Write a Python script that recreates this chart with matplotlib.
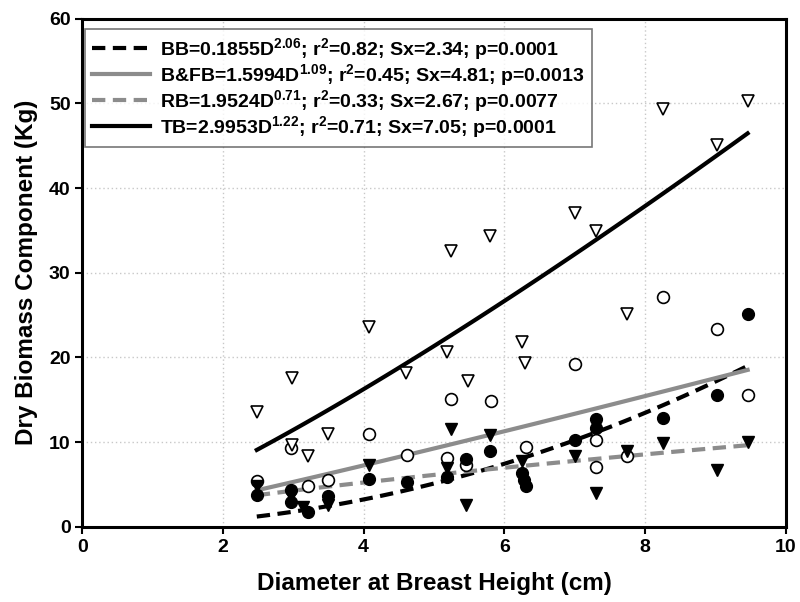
import numpy as np
import matplotlib
matplotlib.use("Agg")
import matplotlib.pyplot as plt

plt.rcParams.update({
    "font.family": ["Liberation Sans Narrow", "Liberation Sans", "DejaVu Sans"],
    "font.weight": "bold",
    "mathtext.fontset": "custom",
    "mathtext.rm": "Liberation Sans:bold",
    "mathtext.bf": "Liberation Sans:bold",
    "mathtext.it": "Liberation Sans:bold",
})

# --- data ---
bb_d = [2.48, 2.97, 2.97, 3.21, 3.49, 4.08, 4.61, 5.19, 5.46, 5.80, 6.25, 6.28, 6.31,
        7.00, 7.30, 7.30, 8.26, 9.03, 9.46]
bb_y = [3.7, 4.3, 2.9, 1.7, 3.6, 5.6, 5.3, 5.9, 8.0, 9.0, 6.3, 5.5, 4.8,
        10.2, 12.7, 11.7, 12.9, 15.5, 25.1]

bfb_d = [2.48, 2.97, 3.21, 3.49, 4.08, 4.61, 5.19, 5.24, 5.46, 5.81, 6.31, 7.00,
         7.30, 7.30, 7.74, 8.26, 9.03, 9.46]
bfb_y = [5.4, 9.3, 4.85, 5.5, 11.0, 8.5, 8.1, 15.1, 7.3, 14.9, 9.4, 19.2,
         10.3, 7.0, 8.3, 27.1, 23.3, 15.6]

rb_d = [2.48, 2.97, 3.14, 3.49, 4.08, 5.19, 5.24, 5.46, 5.80, 6.25, 7.00, 7.30,
        7.74, 8.26, 9.03, 9.46]
rb_y = [4.8, 3.6, 2.3, 2.6, 7.3, 6.9, 11.6, 2.6, 10.8, 7.8, 8.3, 4.0,
        9.0, 9.9, 6.7, 10.0]

tb_d = [2.48, 2.98, 2.98, 3.21, 3.49, 4.08, 4.60, 5.19, 5.24, 5.48, 5.80, 6.25,
        6.30, 7.00, 7.30, 7.75, 8.26, 9.02, 9.46]
tb_y = [13.6, 17.6, 9.7, 8.3, 11.0, 23.6, 18.1, 20.6, 32.6, 17.2, 34.3, 21.8,
        19.3, 37.0, 34.9, 25.1, 49.3, 45.1, 50.3]

# fitted allometric models (coefficients from the legend)
fit_names = ["BB", "B&FB", "RB", "TB"]
fit_a = [0.1855, 1.5994, 1.9524, 2.9953]
fit_b = [2.06, 1.09, 0.71, 1.22]
fit_b_txt = ["2.06", "1.09", "0.71", "1.22"]
fit_r2 = ["0.82", "0.45", "0.33", "0.71"]
fit_sx = ["2.34", "4.81", "2.67", "7.05"]
fit_p = ["0.0001", "0.0013", "0.0077", "0.0001"]
fit_color = ["black", "#8c8c8c", "#8c8c8c", "black"]
fit_ls = [(0, (3.2, 1.8)), "-", (0, (3.2, 1.8)), "-"]
d_min, d_max = 2.48, 9.46

fig = plt.figure(figsize=(8.0, 6.02), dpi=100)
ax = fig.add_axes([0.103, 0.125, 0.879, 0.844])

dd = np.linspace(d_min, d_max, 100)
handles = []
for name, a, b, bt, r2, sx, p, c, ls in zip(fit_names, fit_a, fit_b, fit_b_txt, fit_r2,
                                             fit_sx, fit_p, fit_color, fit_ls):
    label = (f"{name}=" + f"{a:.4f}" + r"D$^{" + bt + r"}$; r$^{2}$=" + r2 +
             f"; Sx={sx}; p={p}")
    h, = ax.plot(dd, a * dd ** b, color=c, linestyle=ls, linewidth=3, label=label, zorder=3)
    handles.append(h)

ms = 8.5
ax.plot(bfb_d, bfb_y, "o", ms=ms, mfc="white", mec="black", mew=1.2, zorder=4)
ax.plot(tb_d, tb_y, "v", ms=ms, mfc="white", mec="black", mew=1.2, zorder=4)
ax.plot(rb_d, rb_y, "v", ms=ms, mfc="black", mec="black", zorder=5)
ax.plot(bb_d, bb_y, "o", ms=ms, mfc="black", mec="black", zorder=5)

ax.set_xlim(0, 10)
ax.set_ylim(0, 60)
ax.set_xticks(range(0, 11, 2))
ax.set_yticks(range(0, 61, 10))
ax.tick_params(labelsize=14, width=1.5, length=5, direction="out")
ax.grid(True, linestyle=(0, (1, 2)), color="#c8c8c8", linewidth=1)
ax.set_axisbelow(True)
for s in ax.spines.values():
    s.set_linewidth(2.2)

ax.set_xlabel("Diameter at Breast Height (cm)", fontsize=17.5, fontweight="bold", labelpad=12)
ax.set_ylabel("Dry Biomass Component (Kg)", fontsize=17.5, fontweight="bold", labelpad=8)

leg = ax.legend(handles=handles, loc="upper left", bbox_to_anchor=(0.003, 0.98),
                fontsize=14, handlelength=3.0, handletextpad=0.5, labelspacing=0.0,
                frameon=True, fancybox=False, borderpad=0.38, borderaxespad=0)
leg.get_frame().set_edgecolor("#555555")
leg.get_frame().set_linewidth(1.2)

fig.savefig("out.png", dpi=100)
